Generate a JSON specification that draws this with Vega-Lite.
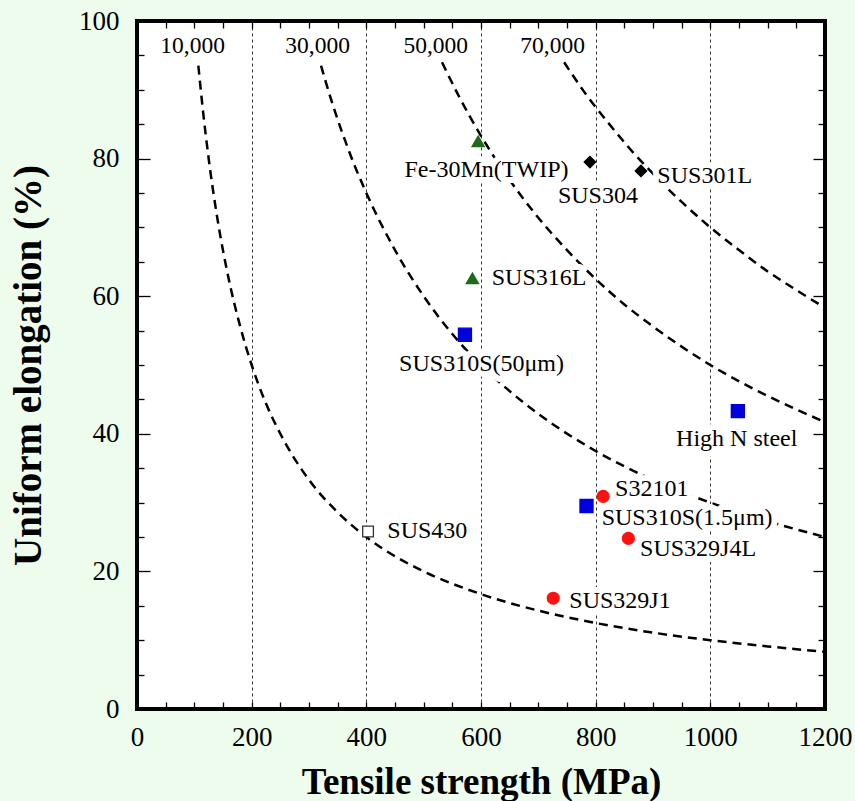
{
  "$schema": "https://vega.github.io/schema/vega-lite/v6.json",
  "width": 688,
  "height": 688,
  "autosize": {"type": "none"},
  "padding": {"left": 137, "top": 21, "right": 30, "bottom": 92},
  "background": "#eefcee",
  "config": {
    "font": "Liberation Serif",
    "view": {"fill": "white", "stroke": "black", "strokeWidth": 4},
    "axis": {"labelFont": "Liberation Serif", "titleFont": "Liberation Serif", "labelColor": "black", "titleColor": "black", "tickColor": "black", "domain": false, "grid": false}
  },
  "datasets": {
    "curves": [
      {"K": "10,000", "ts": 107, "ue": 93.5}, {"K": "10,000", "ts": 115, "ue": 87}, {"K": "10,000", "ts": 125, "ue": 80}, {"K": "10,000", "ts": 140, "ue": 71.4}, {"K": "10,000", "ts": 160, "ue": 62.5}, {"K": "10,000", "ts": 180, "ue": 55.6}, {"K": "10,000", "ts": 200, "ue": 50}, {"K": "10,000", "ts": 225, "ue": 44.4}, {"K": "10,000", "ts": 250, "ue": 40}, {"K": "10,000", "ts": 300, "ue": 33.3}, {"K": "10,000", "ts": 350, "ue": 28.6}, {"K": "10,000", "ts": 400, "ue": 25}, {"K": "10,000", "ts": 450, "ue": 22.2}, {"K": "10,000", "ts": 500, "ue": 20}, {"K": "10,000", "ts": 600, "ue": 16.7}, {"K": "10,000", "ts": 700, "ue": 14.3}, {"K": "10,000", "ts": 800, "ue": 12.5}, {"K": "10,000", "ts": 900, "ue": 11.1}, {"K": "10,000", "ts": 1000, "ue": 10}, {"K": "10,000", "ts": 1100, "ue": 9.1}, {"K": "10,000", "ts": 1200, "ue": 8.3},
      {"K": "30,000", "ts": 321, "ue": 93.5}, {"K": "30,000", "ts": 340, "ue": 88.2}, {"K": "30,000", "ts": 360, "ue": 83.3}, {"K": "30,000", "ts": 380, "ue": 78.9}, {"K": "30,000", "ts": 400, "ue": 75}, {"K": "30,000", "ts": 450, "ue": 66.7}, {"K": "30,000", "ts": 500, "ue": 60}, {"K": "30,000", "ts": 550, "ue": 54.5}, {"K": "30,000", "ts": 600, "ue": 50}, {"K": "30,000", "ts": 650, "ue": 46.2}, {"K": "30,000", "ts": 700, "ue": 42.9}, {"K": "30,000", "ts": 800, "ue": 37.5}, {"K": "30,000", "ts": 900, "ue": 33.3}, {"K": "30,000", "ts": 1000, "ue": 30}, {"K": "30,000", "ts": 1100, "ue": 27.3}, {"K": "30,000", "ts": 1200, "ue": 25},
      {"K": "50,000", "ts": 532, "ue": 94}, {"K": "50,000", "ts": 560, "ue": 89.3}, {"K": "50,000", "ts": 600, "ue": 83.3}, {"K": "50,000", "ts": 650, "ue": 76.9}, {"K": "50,000", "ts": 700, "ue": 71.4}, {"K": "50,000", "ts": 750, "ue": 66.7}, {"K": "50,000", "ts": 800, "ue": 62.5}, {"K": "50,000", "ts": 850, "ue": 58.8}, {"K": "50,000", "ts": 900, "ue": 55.6}, {"K": "50,000", "ts": 1000, "ue": 50}, {"K": "50,000", "ts": 1100, "ue": 45.5}, {"K": "50,000", "ts": 1200, "ue": 41.7},
      {"K": "70,000", "ts": 745, "ue": 94}, {"K": "70,000", "ts": 780, "ue": 89.7}, {"K": "70,000", "ts": 820, "ue": 85.4}, {"K": "70,000", "ts": 860, "ue": 81.4}, {"K": "70,000", "ts": 900, "ue": 77.8}, {"K": "70,000", "ts": 950, "ue": 73.7}, {"K": "70,000", "ts": 1000, "ue": 70}, {"K": "70,000", "ts": 1050, "ue": 66.7}, {"K": "70,000", "ts": 1100, "ue": 63.6}, {"K": "70,000", "ts": 1150, "ue": 60.9}, {"K": "70,000", "ts": 1200, "ue": 58.3}
    ],
    "curveLabels": [
      {"K": "10,000", "lx": 97, "ly": 96.3},
      {"K": "30,000", "lx": 315, "ly": 96.3},
      {"K": "50,000", "lx": 521, "ly": 96.3},
      {"K": "70,000", "lx": 725, "ly": 96.3}
    ],
    "points": [
      {"name": "Fe-30Mn(TWIP)", "group": "Fe-Mn / SUS316L", "ts": 595, "ue": 82.5},
      {"name": "SUS316L", "group": "Fe-Mn / SUS316L", "ts": 585, "ue": 62.6},
      {"name": "SUS304", "group": "SUS304 / SUS301L", "ts": 790, "ue": 79.5},
      {"name": "SUS301L", "group": "SUS304 / SUS301L", "ts": 879, "ue": 78.2},
      {"name": "SUS310S(50μm)", "group": "SUS310S / High N", "ts": 572, "ue": 54.4},
      {"name": "High N steel", "group": "SUS310S / High N", "ts": 1048, "ue": 43.3},
      {"name": "SUS310S(1.5μm)", "group": "SUS310S / High N", "ts": 784, "ue": 29.5},
      {"name": "S32101", "group": "Duplex", "ts": 813, "ue": 30.9},
      {"name": "SUS329J4L", "group": "Duplex", "ts": 857, "ue": 24.8},
      {"name": "SUS329J1", "group": "Duplex", "ts": 726, "ue": 16.1},
      {"name": "SUS430", "group": "Ferritic", "ts": 403, "ue": 25.8}
    ],
    "labelsC": [
      {"name": "Fe-30Mn(TWIP)", "lx": 609.6, "ly": 78.3},
      {"name": "SUS304", "lx": 804, "ly": 74.5},
      {"name": "SUS310S(50μm)", "lx": 601, "ly": 50.2},
      {"name": "High N steel", "lx": 1046, "ly": 39.3}
    ],
    "labelsL": [
      {"name": "SUS301L", "lx": 907.6, "ly": 77.5},
      {"name": "SUS316L", "lx": 618.7, "ly": 62.6},
      {"name": "S32101", "lx": 833.8, "ly": 32.0},
      {"name": "SUS310S(1.5μm)", "lx": 810.5, "ly": 27.8},
      {"name": "SUS329J4L", "lx": 877.4, "ly": 23.3},
      {"name": "SUS329J1", "lx": 754, "ly": 15.7},
      {"name": "SUS430", "lx": 436.6, "ly": 25.9}
    ]
  },
  "layer": [
    {
      "data": {"name": "curves"},
      "mark": {"type": "line", "color": "black", "strokeWidth": 2.5, "strokeDash": [9, 6], "interpolate": "monotone", "clip": true},
      "encoding": {
        "x": {"field": "ts", "type": "quantitative", "scale": {"domain": [0, 1200], "nice": false, "zero": false},
          "axis": {"orient": "bottom", "values": [0, 200, 400, 600, 800, 1000, 1200], "format": "d", "labelFontSize": 27, "labelPadding": 15, "labelFlush": false, "labelOverlap": false, "ticks": false, "domain": false, "grid": false, "title": "Tensile strength (MPa)", "titleFontSize": 37, "titleFontWeight": "bold", "titlePadding": 14}},
        "y": {"field": "ue", "type": "quantitative", "scale": {"domain": [0, 100], "nice": false, "zero": false},
          "axis": {"orient": "left", "values": [0, 20, 40, 60, 80, 100], "format": "d", "labelFontSize": 27, "labelPadding": 18, "labelFlush": false, "labelOverlap": false, "ticks": false, "domain": false, "grid": false, "title": "Uniform elongation (%)", "titleFontSize": 39, "titleFontWeight": "bold", "titlePadding": 30}},
        "detail": {"field": "K", "type": "nominal"}
      }
    },
    {
      "data": {"name": "curveLabels"},
      "mark": {"type": "text", "fontSize": 23.5, "font": "Liberation Serif", "color": "black", "align": "center", "baseline": "middle"},
      "encoding": {
        "x": {"field": "lx", "type": "quantitative", "scale": {"domain": [0, 1200], "nice": false, "zero": false},
          "axis": {"orient": "bottom", "values": [200, 400, 600, 800, 1000], "labels": false, "ticks": false, "domain": false, "grid": true, "gridColor": "#333333", "gridDash": [3, 3], "gridWidth": 1, "title": null}},
        "y": {"field": "ly", "type": "quantitative", "scale": {"domain": [0, 100], "nice": false, "zero": false},
          "axis": {"orient": "left", "values": [5, 10, 15, 25, 30, 35, 45, 50, 55, 65, 70, 75, 85, 90, 95], "labels": false, "domain": false, "grid": false, "ticks": true, "tickSize": 7, "offset": -7, "tickWidth": 1.3, "title": null}},
        "text": {"field": "K", "type": "nominal"}
      }
    },
    {
      "data": {"name": "points"},
      "mark": {"type": "point", "opacity": 1, "strokeWidth": 1.3},
      "encoding": {
        "x": {"field": "ts", "type": "quantitative", "scale": {"domain": [0, 1200], "nice": false, "zero": false},
          "axis": {"orient": "bottom", "values": [50, 100, 150, 200, 250, 300, 350, 400, 450, 500, 550, 600, 650, 700, 750, 800, 850, 900, 950, 1000, 1050, 1100, 1150], "labels": false, "domain": false, "grid": false, "ticks": true, "tickSize": 7, "offset": -7, "tickWidth": 1.3, "title": null}},
        "y": {"field": "ue", "type": "quantitative", "scale": {"domain": [0, 100], "nice": false, "zero": false},
          "axis": {"orient": "left", "values": [20, 40, 60, 80], "labels": false, "domain": false, "grid": false, "ticks": true, "tickSize": 13, "offset": -13, "tickWidth": 1.3, "title": null}},
        "shape": {"field": "group", "type": "nominal", "scale": {"domain": ["Fe-Mn / SUS316L", "SUS304 / SUS301L", "SUS310S / High N", "Duplex", "Ferritic"], "range": ["triangle-up", "diamond", "square", "circle", "square"]}, "legend": null},
        "fill": {"field": "group", "type": "nominal", "scale": {"domain": ["Fe-Mn / SUS316L", "SUS304 / SUS301L", "SUS310S / High N", "Duplex", "Ferritic"], "range": ["#1d6b1d", "#000000", "#0000dd", "#ff1111", "#ffffff"]}, "legend": null},
        "stroke": {"field": "group", "type": "nominal", "scale": {"domain": ["Fe-Mn / SUS316L", "SUS304 / SUS301L", "SUS310S / High N", "Duplex", "Ferritic"], "range": ["#1d6b1d", "#000000", "#0000dd", "#ff1111", "#333333"]}, "legend": null},
        "size": {"field": "group", "type": "nominal", "scale": {"type": "ordinal", "domain": ["Fe-Mn / SUS316L", "SUS304 / SUS301L", "SUS310S / High N", "Duplex", "Ferritic"], "range": [150, 130, 170, 140, 115]}, "legend": null}
      }
    },
    {
      "data": {"name": "labelsC"},
      "mark": {"type": "text", "fontSize": 24, "font": "Liberation Serif", "fill": "white", "stroke": "white", "strokeWidth": 12, "strokeJoin": "round", "align": "center", "baseline": "middle"},
      "encoding": {
        "x": {"field": "lx", "type": "quantitative", "scale": {"domain": [0, 1200], "nice": false, "zero": false},
          "axis": {"orient": "top", "values": [50, 100, 150, 200, 250, 300, 350, 400, 450, 500, 550, 600, 650, 700, 750, 800, 850, 900, 950, 1000, 1050, 1100, 1150], "labels": false, "domain": false, "grid": false, "ticks": true, "tickSize": 7, "offset": -7, "tickWidth": 1.3, "title": null}},
        "y": {"field": "ly", "type": "quantitative", "scale": {"domain": [0, 100], "nice": false, "zero": false},
          "axis": {"orient": "right", "values": [5, 10, 15, 25, 30, 35, 45, 50, 55, 65, 70, 75, 85, 90, 95], "labels": false, "domain": false, "grid": false, "ticks": true, "tickSize": 7, "offset": -7, "tickWidth": 1.3, "title": null}},
        "text": {"field": "name", "type": "nominal"}
      }
    },
    {
      "data": {"name": "labelsL"},
      "mark": {"type": "text", "fontSize": 24, "font": "Liberation Serif", "fill": "white", "stroke": "white", "strokeWidth": 12, "strokeJoin": "round", "align": "left", "baseline": "middle"},
      "encoding": {
        "x": {"field": "lx", "type": "quantitative", "scale": {"domain": [0, 1200], "nice": false, "zero": false}, "axis": null},
        "y": {"field": "ly", "type": "quantitative", "scale": {"domain": [0, 100], "nice": false, "zero": false},
          "axis": {"orient": "right", "values": [20, 40, 60, 80], "labels": false, "domain": false, "grid": false, "ticks": true, "tickSize": 12, "offset": -12, "tickWidth": 1.3, "title": null}},
        "text": {"field": "name", "type": "nominal"}
      }
    },
    {
      "data": {"name": "labelsC"},
      "mark": {"type": "text", "fontSize": 24, "font": "Liberation Serif", "color": "black", "align": "center", "baseline": "middle"},
      "encoding": {
        "x": {"field": "lx", "type": "quantitative", "scale": {"domain": [0, 1200], "nice": false, "zero": false}, "axis": null},
        "y": {"field": "ly", "type": "quantitative", "scale": {"domain": [0, 100], "nice": false, "zero": false}, "axis": null},
        "text": {"field": "name", "type": "nominal"}
      }
    },
    {
      "data": {"name": "labelsL"},
      "mark": {"type": "text", "fontSize": 24, "font": "Liberation Serif", "color": "black", "align": "left", "baseline": "middle"},
      "encoding": {
        "x": {"field": "lx", "type": "quantitative", "scale": {"domain": [0, 1200], "nice": false, "zero": false}, "axis": null},
        "y": {"field": "ly", "type": "quantitative", "scale": {"domain": [0, 100], "nice": false, "zero": false}, "axis": null},
        "text": {"field": "name", "type": "nominal"}
      }
    }
  ],
  "resolve": {"axis": {"x": "independent", "y": "independent"}}
}
